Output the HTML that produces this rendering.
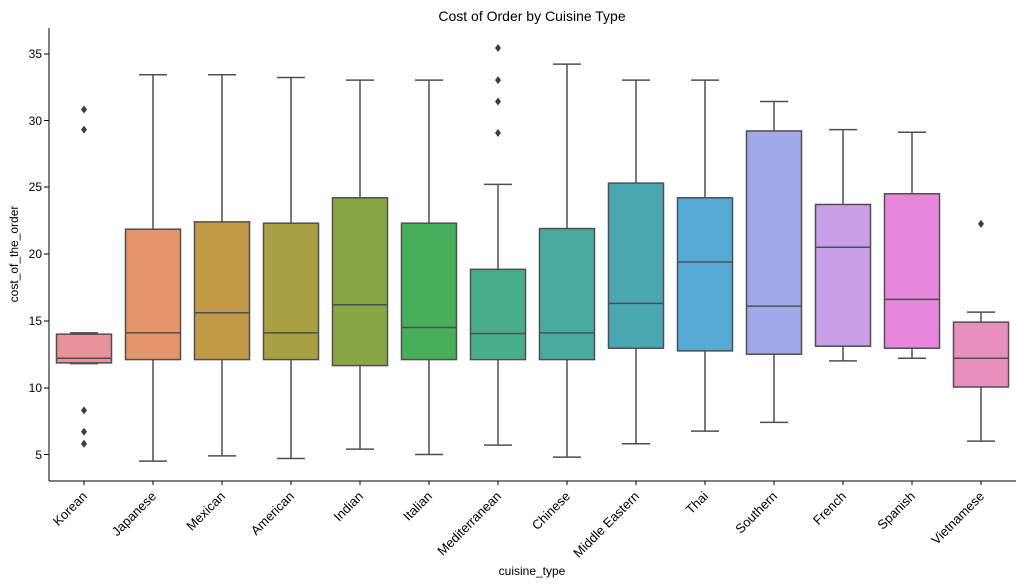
<!DOCTYPE html>
<html><head><meta charset="utf-8"><style>
body{margin:0;background:#fff;}
svg{display:block;font-family:"Liberation Sans","DejaVu Sans",sans-serif;}
</style></head><body>
<svg id="s" width="1024" height="586" viewBox="0 0 1024 586">
<rect width="1024" height="586" fill="#fff"/>
<g id="boxes"></g>
<line x1="49" y1="28" x2="49" y2="481" stroke="#000" stroke-width="1"/>
<line x1="49" y1="481" x2="1016" y2="481" stroke="#000" stroke-width="1"/>
<g font-size="12" fill="#000" text-anchor="end">
<text x="42" y="58">35</text><text x="42" y="125">30</text><text x="42" y="191">25</text>
<text x="42" y="258">20</text><text x="42" y="325">15</text><text x="42" y="392">10</text><text x="42" y="459">5</text>
</g>
<g stroke="#000"><line x1="44" x2="49" y1="54" y2="54"/><line x1="44" x2="49" y1="120.5" y2="120.5"/><line x1="44" x2="49" y1="187" y2="187"/><line x1="44" x2="49" y1="254" y2="254"/><line x1="44" x2="49" y1="321" y2="321"/><line x1="44" x2="49" y1="388" y2="388"/><line x1="44" x2="49" y1="454.5" y2="454.5"/></g>
<g id="xt" font-size="13" fill="#000" text-anchor="end">
<text transform="translate(88,497) rotate(-45)">Korean</text>
<text transform="translate(157,497) rotate(-45)">Japanese</text>
<text transform="translate(226,497) rotate(-45)">Mexican</text>
<text transform="translate(295,497) rotate(-45)">American</text>
<text transform="translate(364,497) rotate(-45)">Indian</text>
<text transform="translate(433,497) rotate(-45)">Italian</text>
<text transform="translate(502,497) rotate(-45)">Mediterranean</text>
<text transform="translate(571,497) rotate(-45)">Chinese</text>
<text transform="translate(640,497) rotate(-45)">Middle Eastern</text>
<text transform="translate(709,497) rotate(-45)">Thai</text>
<text transform="translate(778,497) rotate(-45)">Southern</text>
<text transform="translate(847,497) rotate(-45)">French</text>
<text transform="translate(916,497) rotate(-45)">Spanish</text>
<text transform="translate(985,497) rotate(-45)">Vietnamese</text>
</g>
<text x="532" y="21" font-size="14" text-anchor="middle">Cost of Order by Cuisine Type</text>
<text x="532" y="575" font-size="12" text-anchor="middle">cuisine_type</text>
<text transform="translate(18,254) rotate(-90)" font-size="12" text-anchor="middle">cost_of_the_order</text>
</svg>
<script>
var d=[
["#e8929d",11.8,11.85,12.2,14.0,14.1,[30.8,29.3,8.3,6.7,5.8]],
["#e5956a",4.5,12.1,14.1,21.85,33.4,[]],
["#c29a45",4.9,12.1,15.6,22.4,33.4,[]],
["#a8a043",4.7,12.1,14.1,22.3,33.2,[]],
["#87a646",5.4,11.65,16.2,24.2,33.0,[]],
["#47ae5c",5.0,12.1,14.5,22.3,33.0,[]],
["#47ad8b",5.7,12.1,14.05,18.85,25.2,[35.4,33.0,31.4,29.05]],
["#49ab9f",4.8,12.1,14.1,21.9,34.2,[]],
["#4aa8b3",5.8,12.95,16.3,25.3,33.0,[]],
["#55aad6",6.75,12.75,19.4,24.2,33.0,[]],
["#a0aae8",7.4,12.5,16.1,29.2,31.4,[]],
["#c89ee6",12.0,13.1,20.5,23.7,29.3,[]],
["#e888dc",12.2,12.95,16.6,24.5,29.1,[]],
["#e88fbc",6.0,10.05,12.2,14.9,15.65,[22.25]]];
var y=v=>454.5-(v-5)*13.37,h='',c='#4f4f4f';
d.forEach((r,i)=>{var x=84+i*69;
h+=`<line x1="${x}" x2="${x}" y1="${y(r[1])}" y2="${y(r[2])}" stroke="${c}" stroke-width="1.5"/>`;
h+=`<line x1="${x}" x2="${x}" y1="${y(r[4])}" y2="${y(r[5])}" stroke="${c}" stroke-width="1.5"/>`;
h+=`<line x1="${x-14}" x2="${x+14}" y1="${y(r[1])}" y2="${y(r[1])}" stroke="${c}" stroke-width="1.5"/>`;
h+=`<line x1="${x-14}" x2="${x+14}" y1="${y(r[5])}" y2="${y(r[5])}" stroke="${c}" stroke-width="1.5"/>`;
h+=`<rect x="${x-27.5}" y="${y(r[4])}" width="55" height="${y(r[2])-y(r[4])}" fill="${r[0]}" stroke="${c}" stroke-width="1.5"/>`;
h+=`<line x1="${x-27.5}" x2="${x+27.5}" y1="${y(r[3])}" y2="${y(r[3])}" stroke="${c}" stroke-width="1.5"/>`;
h+=`<line x1="${x}" x2="${x}" y1="481" y2="485" stroke="#000"/>`;
r[6].forEach(o=>{var yy=y(o);h+=`<path d="M${x} ${yy-4}L${x+3} ${yy}L${x} ${yy+4}L${x-3} ${yy}Z" fill="#3d3d3d"/>`;});
});
document.getElementById('boxes').innerHTML=h;
</script>
</body></html>
